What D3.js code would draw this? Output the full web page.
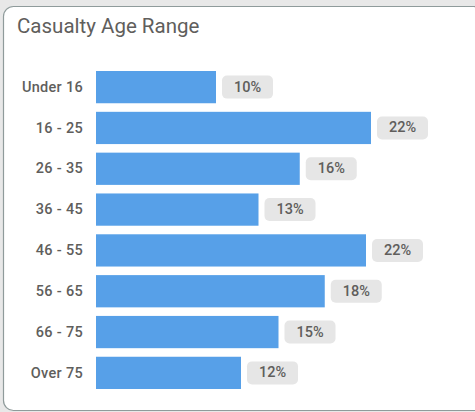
<!DOCTYPE html>
<html>
<head>
<meta charset="utf-8">
<script src="https://cdn.jsdelivr.net/npm/d3@7"></script>
<style>
  body { margin: 0; background: #e8e8e8; }
  svg { display: block; }
</style>
</head>
<body>
<div id="chart"></div>
<script>
// chart data
var ageRanges = ["Under 16", "16 - 25", "26 - 35", "36 - 45", "46 - 55", "56 - 65", "66 - 75", "Over 75"];
var casualtyPct = [9.6, 22.0, 16.3, 13.0, 21.6, 18.3, 14.6, 11.6];

var svgWidth = 475;
var svgHeight = 412;

var svg = d3.select("#chart")
  .append("svg")
  .attr("width", svgWidth)
  .attr("height", svgHeight);

// card background
svg.append("rect")
  .attr("x", 3.5)
  .attr("y", 6.5)
  .attr("width", 480)
  .attr("height", 404)
  .attr("rx", 10)
  .attr("fill", "#ffffff")
  .attr("stroke", "#8f9b9b")
  .attr("stroke-width", 1.2);

// title
svg.append("text")
  .attr("x", 17)
  .attr("y", 33)
  .attr("fill", "#605e5c")
  .style("font-family", "Roboto, sans-serif")
  .style("font-size", "20.5px")
  .text("Casualty Age Range");

var data = ageRanges.map(function(d, i) {
  return { range: d, value: casualtyPct[i] };
});

var xScale = d3.scaleLinear()
  .domain([0, 22])
  .range([96, 371]);

var yScale = d3.scaleBand()
  .domain(ageRanges)
  .range([71, 389])
  .paddingInner(0.21)
  .paddingOuter(0);

// category axis (labels only)
var leftAxis = d3.axisLeft(yScale).tickSize(0).tickPadding(0);

var yAxis = svg.append("g")
  .attr("transform", "translate(83, 0)")
  .call(leftAxis);

yAxis.select(".domain").remove();
yAxis.selectAll("text")
  .attr("fill", "#605e5c")
  .style("font-family", "Roboto, sans-serif")
  .style("font-size", "14.5px")
  .style("font-weight", "500")
  .style("letter-spacing", "0.3px");

// bars
svg.append("g")
  .selectAll("rect")
  .data(data)
  .enter()
  .append("rect")
  .attr("x", xScale(0))
  .attr("y", d => yScale(d.range))
  .attr("width", d => xScale(d.value) - xScale(0))
  .attr("height", yScale.bandwidth())
  .attr("fill", "#57a0e8");

// value labels in grey pills
var pillW = 51;
var pillH = 23;
var labels = svg.append("g")
  .selectAll("g")
  .data(data)
  .enter()
  .append("g")
  .attr("transform", d => "translate(" + (xScale(d.value) + 6) + "," + (yScale(d.range) + yScale.bandwidth() / 2) + ")");

labels.append("rect")
  .attr("x", 0)
  .attr("y", -pillH / 2)
  .attr("width", pillW)
  .attr("height", pillH)
  .attr("rx", 5)
  .attr("fill", "#e6e6e6");

labels.append("text")
  .attr("x", pillW / 2)
  .attr("y", 0)
  .attr("text-anchor", "middle")
  .attr("dominant-baseline", "central")
  .attr("fill", "#605e5c")
  .style("font-family", "Roboto, sans-serif")
  .style("font-size", "14.5px")
  .style("font-weight", "500")
  .text(d => Math.round(d.value) + "%");
</script>
</body>
</html>
